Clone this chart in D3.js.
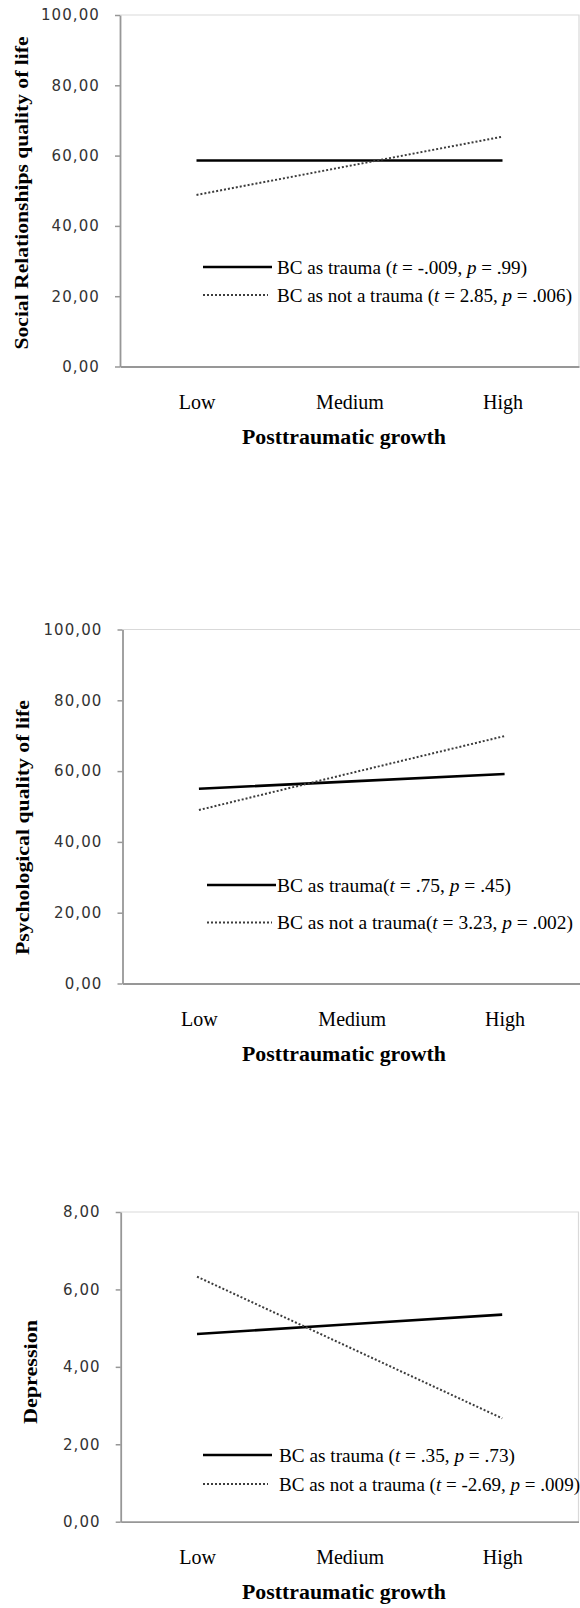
<!DOCTYPE html>
<html>
<head>
<meta charset="utf-8">
<script src="https://cdnjs.cloudflare.com/ajax/libs/d3/7.8.5/d3.min.js"></script>
<style>
  body { margin: 0; background: #fff; }
  svg { display: block; }
</style>
</head>
<body>
<div id="chart-area"></div>
<script>
// categories on the x axis
var categories = ['Low', 'Medium', 'High'];
var seriesNames = ['BC as trauma', 'BC as not a trauma'];

// panel 1 - social relationships
var socialTrauma = [58.6, 58.6, 58.6];
var socialNotTrauma = [48.8, 57.1, 65.4];
var socialT = ['-.009', '2.85'];
var socialP = ['.99', '.006'];

// panel 2 - psychological
var psychTrauma = [55.0, 57.1, 59.2];
var psychNotTrauma = [49.0, 59.5, 69.9];
var psychT = ['.75', '3.23'];
var psychP = ['.45', '.002'];

// panel 3 - depression
var depTrauma = [4.85, 5.10, 5.35];
var depNotTrauma = [6.33, 4.50, 2.67];
var depT = ['.35', '-2.69'];
var depP = ['.73', '.009'];

// y ticks
var qolTicks = [0, 20, 40, 60, 80, 100];
var depTicks = [0, 2, 4, 6, 8];

var serif = '"Liberation Serif", "Times New Roman", serif';

var svg = d3.select('#chart-area')
  .append('svg')
    .attr('width', 580)
    .attr('height', 1608);

function drawPanel(p) {
  var g = svg.append('g');

  var x = d3.scalePoint()
    .domain(categories)
    .range([p.left, p.right])
    .padding(0.5);

  var y = d3.scaleLinear()
    .domain([0, p.yMax])
    .range([p.bottom, p.top]);

  // light top / right edge of the plot area
  g.append('path')
    .attr('d', 'M' + p.left + ',' + p.top + 'H' + p.right + 'V' + p.bottom)
    .attr('fill', 'none')
    .attr('stroke', '#d9d9d9')
    .attr('stroke-width', 1.2);

  // Y axis
  var yAxisCall = d3.axisLeft(y)
    .tickValues(p.ticks)
    .tickSizeInner(5)
    .tickSizeOuter(0)
    .tickPadding(15)
    .tickFormat(function(d) { return d3.format('.2f')(d).replace('.', ','); });
  var yg = g.append('g')
    .attr('transform', 'translate(' + p.left + ',0)')
    .call(yAxisCall);
  yg.select('.domain').attr('stroke', '#979797').attr('stroke-width', 1.8);
  yg.selectAll('.tick line').attr('stroke', '#979797').attr('stroke-width', 1.5);
  yg.selectAll('.tick text')
    .attr('font-family', '"DejaVu Sans", sans-serif')
    .attr('font-size', '15px')
    .attr('letter-spacing', '1.1px')
    .attr('fill', '#333');

  // X axis
  var xg = g.append('g')
    .attr('transform', 'translate(0,' + p.bottom + ')')
    .call(d3.axisBottom(x).tickSize(0).tickPadding(0));
  xg.select('.domain').attr('stroke', '#979797').attr('stroke-width', 1.8);
  xg.selectAll('.tick text')
    .attr('y', 42)
    .attr('dy', 0)
    .attr('font-family', serif)
    .attr('font-size', '20px')
    .attr('fill', '#000');

  // axis titles
  g.append('text')
    .attr('transform', 'translate(' + p.yLabelX + ',' + p.yLabelMid + ') rotate(-90)')
    .attr('text-anchor', 'middle')
    .attr('font-family', serif)
    .attr('font-weight', 'bold')
    .attr('font-size', '18px')
    .attr('textLength', p.yLabelLen)
    .attr('lengthAdjust', 'spacingAndGlyphs')
    .text(p.yLabel);

  g.append('text')
    .attr('x', 344)
    .attr('y', p.bottom + 77)
    .attr('text-anchor', 'middle')
    .attr('font-family', serif)
    .attr('font-weight', 'bold')
    .attr('font-size', '20px')
    .attr('textLength', 204)
    .attr('lengthAdjust', 'spacingAndGlyphs')
    .text('Posttraumatic growth');

  // lines
  var line = d3.line()
    .x(function(d, i) { return x(categories[i]); })
    .y(function(d) { return y(d); });

  var styles = [
    { stroke: '#000', width: 2.6, dash: null },
    { stroke: '#3c3c3c', width: 2, dash: '2,2' }
  ];

  [p.trauma, p.notTrauma].forEach(function(vals, i) {
    g.append('path')
      .datum(vals)
      .attr('fill', 'none')
      .attr('stroke', styles[i].stroke)
      .attr('stroke-width', styles[i].width)
      .attr('stroke-dasharray', styles[i].dash)
      .attr('d', line);
  });

  // legend
  seriesNames.forEach(function(name, i) {
    var ly = p.legendY[i];
    g.append('line')
      .attr('x1', p.legX1)
      .attr('x2', i === 0 ? p.legX1 + 69 : p.legX1 + 65)
      .attr('y1', ly)
      .attr('y2', ly)
      .attr('stroke', styles[i].stroke)
      .attr('stroke-width', styles[i].width)
      .attr('stroke-dasharray', styles[i].dash);

    var t = g.append('text')
      .attr('x', p.textX)
      .attr('y', ly)
      .attr('dy', '0.35em')
      .attr('font-family', serif)
      .attr('font-size', '19px')
      .attr('fill', '#000')
      .attr('textLength', p.legendLen[i])
      .attr('lengthAdjust', 'spacingAndGlyphs');
    t.append('tspan').text(name + p.gap + '(');
    t.append('tspan').attr('font-style', 'italic').text('t');
    t.append('tspan').text(' = ' + p.tVals[i] + ', ');
    t.append('tspan').attr('font-style', 'italic').text('p');
    t.append('tspan').text(' = ' + p.pVals[i] + ')');
  });
}

drawPanel({
  top: 15, bottom: 366.5, left: 120, right: 579, yMax: 100, ticks: qolTicks,
  yLabel: 'Social Relationships quality of life', yLabelX: 28, yLabelMid: 193, yLabelLen: 313,
  trauma: socialTrauma, notTrauma: socialNotTrauma, tVals: socialT, pVals: socialP, gap: ' ',
  legendY: [267, 295], legendLen: [250, 295], legX1: 203, textX: 277
});

drawPanel({
  top: 629.5, bottom: 983.5, left: 122.5, right: 581, yMax: 100, ticks: qolTicks,
  yLabel: 'Psychological quality of life', yLabelX: 29, yLabelMid: 827.5, yLabelLen: 255,
  trauma: psychTrauma, notTrauma: psychNotTrauma, tVals: psychT, pVals: psychP, gap: '',
  legendY: [885, 922.5], legendLen: [234, 296], legX1: 207, textX: 277
});

drawPanel({
  top: 1212, bottom: 1521.7, left: 120.7, right: 578.5, yMax: 8, ticks: depTicks,
  yLabel: 'Depression', yLabelX: 37, yLabelMid: 1372, yLabelLen: 104,
  trauma: depTrauma, notTrauma: depNotTrauma, tVals: depT, pVals: depP, gap: ' ',
  legendY: [1455, 1484], legendLen: [236, 301], legX1: 203, textX: 279
});
</script>
</body>
</html>
